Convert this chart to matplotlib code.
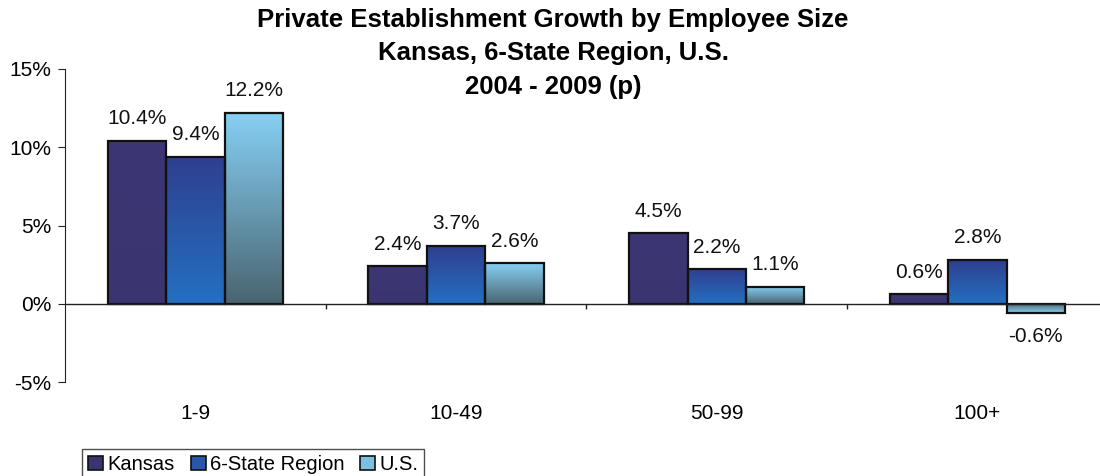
import numpy as np
import matplotlib
matplotlib.use("Agg")
import matplotlib.pyplot as plt
from matplotlib.colors import LinearSegmentedColormap
from matplotlib.patches import Patch

plt.rcParams['font.family'] = ['Liberation Sans', 'DejaVu Sans']

categories = ["1-9", "10-49", "50-99", "100+"]
series_names = ["Kansas", "6-State Region", "U.S."]
kansas = [10.4, 2.4, 4.5, 0.6]
region = [9.4, 3.7, 2.2, 2.8]
us = [12.2, 2.6, 1.1, -0.6]
y_ticks = [-5, 0, 5, 10, 15]
title_lines = ["Private Establishment Growth by Employee Size",
               "Kansas, 6-State Region, U.S.",
               "2004 - 2009 (p)"]

# top colour -> bottom colour for each series' gradient fill
gradients = [
    ("#3d3675", "#3a3570"),
    ("#2f3f8e", "#2470c2"),
    ("#86d0f4", "#4a6470"),
]
legend_colors = ["#3a3570", "#2a55a8", "#7cc0e0"]

fig = plt.figure(figsize=(11, 4.76), dpi=100)
ax = fig.add_axes([65 / 1100, 1 - 382 / 476, 1 - 65 / 1100, (382 - 69) / 476])

x = np.arange(len(categories))
width = 0.224
offsets = [-width, 0, width]
all_series = [kansas, region, us]

ax.set_xlim(-0.5, 3.47)
ax.set_ylim(-5, 15)

FS = 15

for s, (vals, (ctop, cbot)) in enumerate(zip(all_series, gradients)):
    bars = ax.bar(x + offsets[s], vals, width, facecolor="none",
                  edgecolor="#111111", linewidth=1.6, zorder=3)
    cmap = LinearSegmentedColormap.from_list(f"g{s}", [cbot, ctop])
    grad = np.linspace(0, 1, 256).reshape(-1, 1)
    for b, v in zip(bars, vals):
        x0 = b.get_x()
        x1 = x0 + b.get_width()
        y0, y1 = (0, v) if v >= 0 else (v, 0)
        g = grad if v >= 0 else grad[::-1]
        im = ax.imshow(g, cmap=cmap, origin="lower", aspect="auto",
                       extent=[x0, x1, y0, y1], zorder=2)
        im.set_clip_path(b)
        if v >= 0:
            ax.text(b.get_x() + b.get_width() / 2, v + 0.8, f"{v:.1f}%",
                    ha="center", va="bottom", fontsize=FS, color="#111111")
        else:
            ax.text(b.get_x() + b.get_width() / 2, v - 0.9, f"{v:.1f}%",
                    ha="center", va="top", fontsize=FS, color="#111111")

ax.axhline(0, color="#222222", linewidth=1.0, zorder=4)
ax.vlines([0.5, 1.5, 2.5], -0.35, 0, color="#222222", linewidth=1.0, zorder=4)

for sp in ["top", "right", "bottom"]:
    ax.spines[sp].set_visible(False)
ax.spines["left"].set_color("#222222")
ax.set_yticks(y_ticks)
ax.set_yticklabels([f"{t}%" for t in y_ticks], fontsize=FS)
ax.tick_params(axis="y", length=5, color="#222222", pad=5)
ax.set_xticks(x)
ax.set_xticklabels(categories, fontsize=FS)
ax.tick_params(axis="x", length=0, pad=16)

for ypx, line in zip([20, 53, 87], title_lines):
    fig.text(553 / 1100, 1 - ypx / 476, line, ha="center", va="center",
             fontsize=18.5, fontweight="bold")

handles = [Patch(facecolor=c, edgecolor="#111111", linewidth=1.2) for c in legend_colors]
leg = fig.legend(handles, series_names, loc="upper left",
                 bbox_to_anchor=(82 / 1100, 1 - 449 / 476), ncol=3,
                 fontsize=14.5, frameon=True, fancybox=False,
                 handlelength=0.75, handleheight=0.75, handletextpad=0.2,
                 columnspacing=0.8, borderpad=0.3, borderaxespad=0)
leg.get_frame().set_edgecolor("#222222")
leg.get_frame().set_linewidth(1.0)

fig.savefig("out.png", dpi=100, facecolor="white")
